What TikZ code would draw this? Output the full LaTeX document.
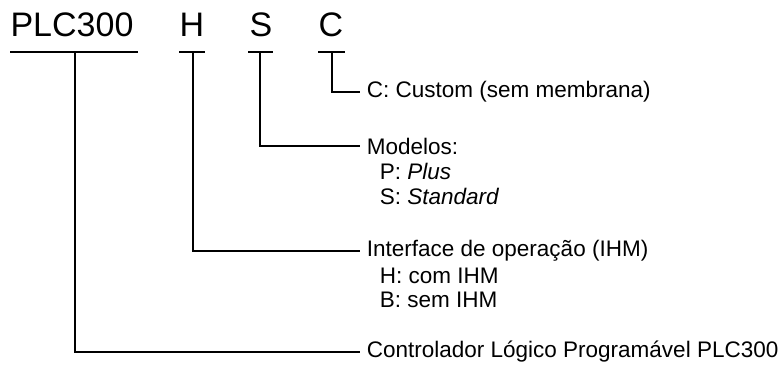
\documentclass[tikz,border=0pt]{standalone}
\usepackage{fontspec}
\setmainfont{Liberation Sans}
\usetikzlibrary{positioning}

\begin{document}
\begin{tikzpicture}[x=1pt,y=-1pt,line width=1.8pt,
    code/.style={font=\fontsize{34}{38}\selectfont,inner sep=0pt,anchor=base},
    desc/.style={font=\fontsize{22.5}{26}\selectfont,inner xsep=6pt,inner ysep=0pt,anchor=west}]
    \useasboundingbox (0,0) rectangle (782,367);
    \node[code] (plc) at (72,36) {PLC300};
    \node[code] (h) at (192,36) {H};
    \node[code] (s) at (261,36) {S};
    \node[code] (c) at (331,36) {C};
    \draw (10,52)--(138,52); \draw (179,52)--(205,52);
    \draw (248,52)--(273,52); \draw (318,52)--(345,52);
    \coordinate (plcT) at (75,52); \coordinate (hT) at (193,52);
    \coordinate (sT) at (260,52); \coordinate (cT) at (332,52);
    \node[desc] (cust) at (360,92) {C: Custom (sem membrana)};
    \node[desc] (mod) at (360,146) {Modelos:};
    \node[desc] (modP) at (373,171) {P: \textit{Plus}};
    \node[desc] (modS) at (373,196) {S: \textit{Standard}};
    \node[desc] (ihm) at (360,251) {Interface de operação (IHM)};
    \node[desc] (ihmH) at (373,276) {H: com IHM};
    \node[desc] (ihmB) at (373,300) {B: sem IHM};
    \node[desc] (ctl) at (360,352) {Controlador Lógico Programável PLC300};
    \draw (cT) |- (cust.west);
    \draw (sT) |- (mod.west);
    \draw (hT) |- (ihm.west);
    \draw (plcT) |- (ctl.west);
\end{tikzpicture}
\end{document}
